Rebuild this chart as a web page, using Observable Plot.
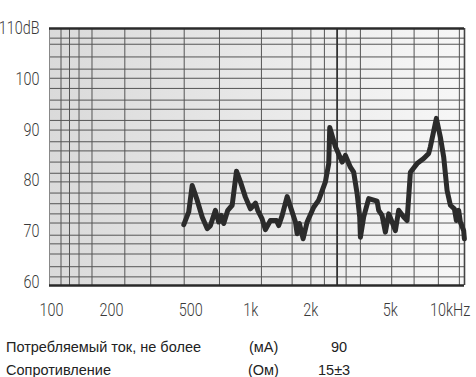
<!DOCTYPE html>
<html><head><meta charset="utf-8">
<script src="https://cdn.jsdelivr.net/npm/d3@7"></script>
<script src="https://cdn.jsdelivr.net/npm/@observablehq/plot@0.6"></script>
<style>
body{margin:0;background:#fff;}
#wrap{position:relative;width:476px;height:377px;overflow:hidden;}
#chart{position:absolute;left:0;top:0;}
.spec{position:absolute;font-family:"Liberation Sans",Arial,sans-serif;font-size:14.5px;color:#222;white-space:nowrap;line-height:16px;}
</style></head><body>
<div id="wrap"><div id="chart"></div>
<div class="spec" style="left:6px;top:339px">Потребляемый ток, не более</div>
<div class="spec" style="left:249px;top:339px">(мА)</div>
<div class="spec" style="left:331px;top:339px">90</div>
<div class="spec" style="left:6px;top:362px">Сопротивление</div>
<div class="spec" style="left:248px;top:362px">(Ом)</div>
<div class="spec" style="left:318px;top:362px">15±3</div>
</div>
<script>
// Frequency response (Hz, dB)
const freqHz = [461,488,508,538,570,604,627,664,690,710,731,766,806,847,887,939,995,1055,1083,1139,1184,1254,1344,1380,1436,1521,1611,1674,1707,1753,1829,1916,2067,2190,2366,2459,2488,2657,2871,2982,3158,3281,3413,3517,3545,3683,3902,4299,4379,4555,4732,4916,5112,5311,5515,5846,6079,6316,6823,7362,7801,7955,8527,8930,9278,9650,10023,10498,10745,11031,11250,11688,11783];
const levelDb = [71.5,74.0,79.2,76.3,73.0,70.7,71.3,74.3,72.0,73.3,71.7,74.3,75.3,82.0,79.9,76.9,74.6,75.7,74.3,72.6,70.5,72.3,72.3,71.3,73.3,77.0,74.0,72.0,69.7,71.7,68.7,72.0,74.9,76.3,79.9,83.5,90.6,86.8,83.8,85.1,82.8,81.8,77.6,73.0,69.0,73.0,76.6,76.1,74.3,73.3,70.0,73.6,72.0,70.3,74.3,73.0,72.3,81.8,83.5,84.5,85.5,86.8,92.4,88.7,84.8,78.2,75.3,74.6,72.3,74.3,72.0,70.3,68.7];

const xTicks = [100,200,500,1000,2000,5000,10000];
const xTickLabels = ["100","200","500","1k","2k","5k","10kHz"];
const yTicks = [60,70,80,90,100,110];
const yTickLabels = ["60","70","80","90","100","110dB"];

// irregular graph-paper grid
const xGrid = [111.6,123.1,137.4,159.6,233.2,314.5,463.1,696,1130,1611,2001,2339,3006,3545,5089,6592,8726,11120];
const xGridBold = [2709];
const yGrid = [108.2,107.0,104.5,102.1,100.3,98.3,96.0,94.2,92.0,90.1,87.8,86.0,83.8,81.6,79.9,77.7,75.6,73.6,71.8,69.4,67.7,65.7,63.2,61.2];

const xDomain = [97.7, 11800];
const yDomain = [59.5, 110.1];

const data = freqHz.map((f, i) => ({f, db: levelDb[i]}));
const font = "Roboto, 'Liberation Sans', sans-serif";

const chart = Plot.plot({
  width: 476, height: 325,
  marginLeft: 49, marginRight: 12, marginTop: 28, marginBottom: 40,
  x: {type: "log", domain: xDomain, label: null, axis: null},
  y: {domain: yDomain, label: null, axis: null},
  style: {background: "transparent", fontFamily: font},
  marks: [
    Plot.frame({fill: "url(#bggrad)", stroke: null}),
    Plot.ruleY(yGrid, {stroke: "#555", strokeWidth: 1}),
    Plot.ruleX(xGrid, {stroke: "#555", strokeWidth: 1}),
    Plot.ruleX(xGridBold, {stroke: "#333", strokeWidth: 1.8}),
    Plot.ruleX([xDomain[0]], {stroke: "#888", strokeWidth: 1}),
    Plot.ruleX([xDomain[1]], {stroke: "#444", strokeWidth: 1.6}),
    Plot.ruleY([yDomain[1]], {stroke: "#2a2a2a", strokeWidth: 2.6}),
    Plot.ruleY([yDomain[0]], {stroke: "#2a2a2a", strokeWidth: 2.6}),
    Plot.line(data, {x: "f", y: "db", stroke: "#2b2b2b", strokeWidth: 5, strokeLinejoin: "round", strokeLinecap: "round"}),
    Plot.text(xTicks, {x: d => d, text: (d, i) => xTickLabels[i], frameAnchor: "bottom", dy: 30, fontSize: 18, fontWeight: 300, fill: "#3a3a3a", fontFamily: font, className: "xlab"}),
    Plot.text(yTicks, {y: d => d, text: (d, i) => yTickLabels[i], frameAnchor: "left", textAnchor: "end", dx: -10, dy: 5, fontSize: 18, fontWeight: 300, fill: "#3a3a3a", fontFamily: font, className: "ylab"})
  ]
});

// condense the axis lettering horizontally (narrow typeface look)
chart.querySelectorAll(".xlab text, .ylab text").forEach(el => {
  const t = el.getAttribute("transform") || "";
  const x = el.getAttribute("x"), y = el.getAttribute("y");
  let tr = t;
  if (x != null || y != null) {
    tr += ` translate(${+x || 0},${+y || 0})`;
    el.removeAttribute("x"); el.removeAttribute("y");
  }
  el.setAttribute("transform", (tr + " scale(0.8,1)").trim());
});

const NS = "http://www.w3.org/2000/svg";
const defs = document.createElementNS(NS, "defs");
const grad = document.createElementNS(NS, "linearGradient");
grad.setAttribute("id", "bggrad");
grad.setAttribute("x1", "0"); grad.setAttribute("x2", "1");
grad.setAttribute("y1", "0"); grad.setAttribute("y2", "0");
[["0%", "#dadada"], ["100%", "#f7f7f7"]].forEach(([o, c]) => {
  const s = document.createElementNS(NS, "stop");
  s.setAttribute("offset", o); s.setAttribute("stop-color", c);
  grad.appendChild(s);
});
defs.appendChild(grad);
chart.insertBefore(defs, chart.firstChild);
document.getElementById("chart").appendChild(chart);
</script>
</body></html>
